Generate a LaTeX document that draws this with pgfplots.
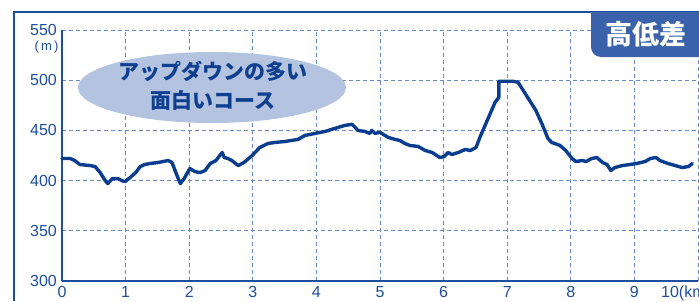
\documentclass[border=0pt]{standalone}
\usepackage{pgfplots}
\pgfplotsset{compat=1.18}
\usepackage{fontspec}
\setmainfont{Liberation Sans}
\newfontfamily\cjk{Noto Sans CJK JP}
\definecolor{prof}{HTML}{0B3D8F}
\definecolor{axc}{HTML}{1E4E9E}
\definecolor{gridc}{HTML}{6A8BC8}
\definecolor{ell}{HTML}{B4C4E0}
\definecolor{badge}{HTML}{3A62AA}
\definecolor{etext}{HTML}{0F3F8F}
\begin{document}
\begin{tikzpicture}[x=1pt,y=1pt]
\useasboundingbox (0,0) rectangle (699,301);
\clip (0,0) rectangle (699,301);
\begin{axis}[
  at={(62pt,20pt)}, anchor=origin,
  scale only axis, width=636pt, height=251pt,
  xmin=0, xmax=10, ymin=300, ymax=550,
  axis lines=left, axis line style={axc, line width=1.3pt, -},
  xtick={0,1,2,3,4,5,6,7,8,9,10},
  xticklabels={0,1,2,3,4,5,6,7,8,9,},
  ytick={300,350,400,450,500,550},
  major tick length=0pt,
  grid=major,
  major grid style={gridc, dashed, dash pattern=on 4pt off 3pt, line width=0.9pt},
  /pgf/number format/assume math mode=true,
  tick label style={text=axc, font=\fontsize{16}{16}\selectfont},
  yticklabel style={anchor=east, inner sep=0pt, xshift=-5pt},
  xticklabel style={anchor=north, inner sep=0pt, yshift=-5pt},
  clip=false,
]
\addplot[prof, line width=3.4pt, line join=round, line cap=round] table {
x y
0 422
0.13 422
0.2 420
0.28 416
0.44 415
0.52 414
0.6 408
0.68 400
0.72 397
0.79 402
0.88 402
0.94 400
0.99 399
1.07 403
1.16 408
1.23 414
1.3 416
1.38 417
1.51 418
1.67 420
1.73 418
1.79 408
1.86 397
1.92 402
2.01 412
2.09 409
2.17 408
2.25 410
2.33 417
2.42 420
2.48 425
2.52 428
2.55 423
2.61 422
2.67 420
2.77 415
2.86 418
2.99 425
3.11 433
3.24 437
3.35 438
3.51 439
3.71 441
3.82 445
3.98 447
4.14 449
4.29 452
4.45 455
4.56 456
4.61 453
4.65 450
4.76 449
4.84 447
4.87 450
4.92 447
5.0 448
5.13 443
5.24 441
5.31 440
5.39 437
5.47 435
5.6 434
5.71 430
5.82 428
5.94 423
6.01 424
6.07 428
6.13 426
6.23 428
6.34 431
6.42 430
6.51 433
6.57 443
6.70 462
6.81 478
6.87 483
6.87 499
6.97 499
7.08 499
7.17 498
7.33 482
7.45 470
7.55 456
7.64 442
7.7 438
7.83 435
7.92 430
8.02 422
8.08 419
8.18 420
8.24 419
8.33 422
8.41 423
8.5 418
8.57 416
8.63 410
8.69 413
8.81 415
8.93 416
9.03 417
9.17 419
9.25 422
9.34 423
9.4 420
9.53 417
9.64 415
9.75 413
9.85 414
9.91 417
};
\end{axis}
% ellipse and text
\fill[ell] (212,213.5) ellipse [x radius=134, y radius=35.5];
\node[text=etext, font=\cjk\bfseries\fontsize{21}{21}\selectfont, inner sep=0pt] at (213,230) {アップダウンの多い};
\node[text=etext, font=\cjk\bfseries\fontsize{21}{21}\selectfont, inner sep=0pt] at (213,201) {面白いコース};
% units
\node[text=axc, font=\fontsize{13}{13}\selectfont, inner sep=0pt] at (46.5,254) {(\,m\,)};
\node[text=axc, font=\fontsize{16}{16}\selectfont, anchor=west, inner sep=0pt] at (661,8) {10(km)};
% frame
\draw[axc, line width=2pt] (14,0) -- (14,289) -- (710,289);
\begin{scope}
\clip (0,0) rectangle (699,289);
\fill[badge, rounded corners=10pt] (591,310) rectangle (730,244);
\end{scope}
\node[text=white, font=\cjk\bfseries\fontsize{27}{27}\selectfont, inner sep=0pt] at (646,267) {高低差};
\end{tikzpicture}
\end{document}
